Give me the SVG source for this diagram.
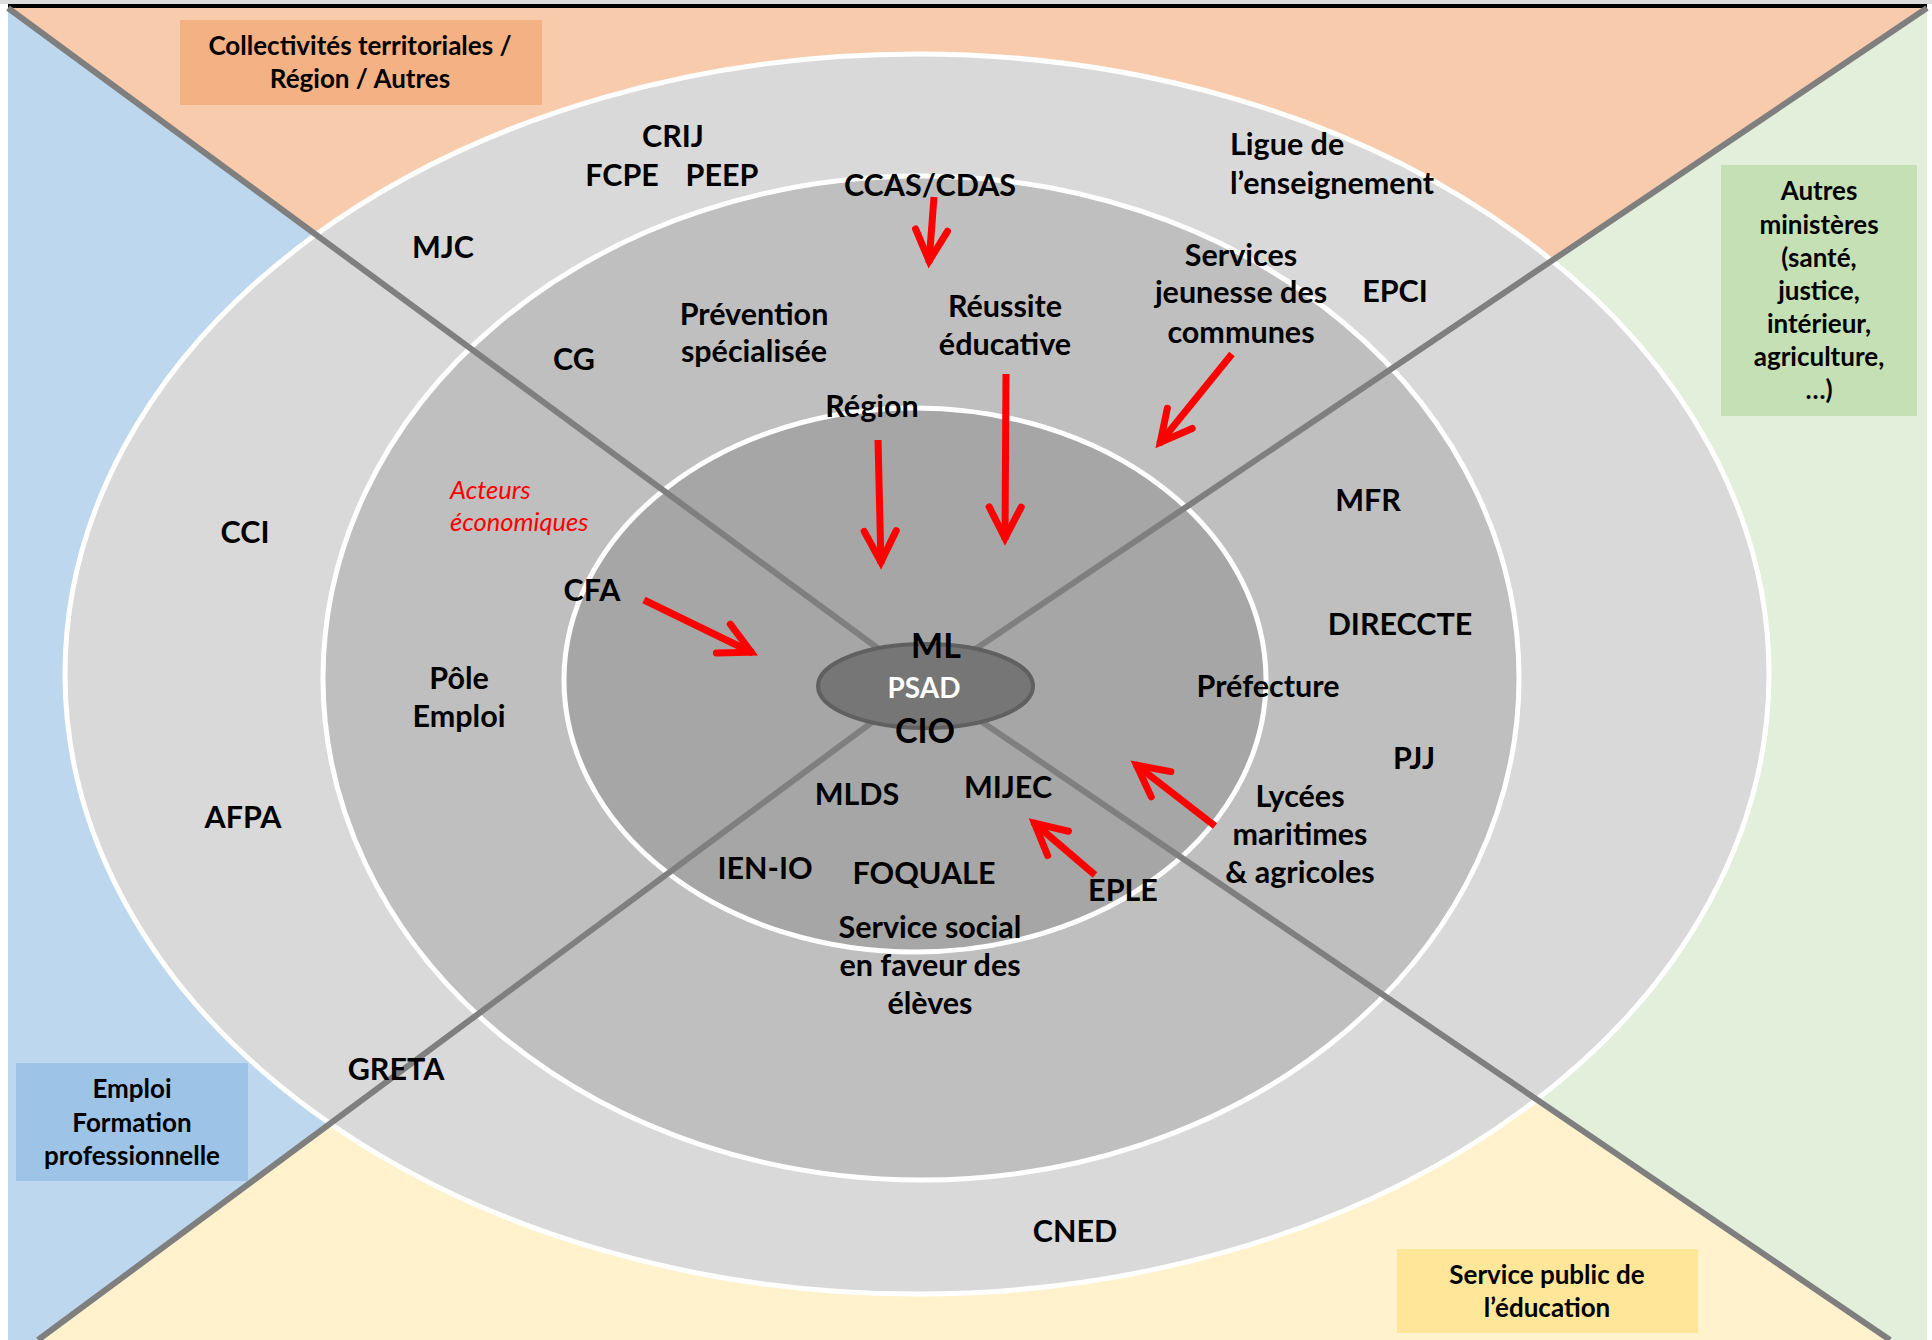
<svg xmlns="http://www.w3.org/2000/svg" width="1932" height="1340" viewBox="0 0 1932 1340">
<style>
.t{font-family:Lato,"Liberation Sans",sans-serif;font-weight:700;font-size:30.5px;fill:#000;text-anchor:middle}
.b{font-size:26px}
.big{font-size:34px}
.psad{font-size:28px;fill:#fff}
.eco{font-style:italic;font-weight:400;font-size:25.5px;fill:#ff0000;text-anchor:start}
.ring{stroke:#fff;stroke-width:5}
.axis{stroke:#7f7f7f;stroke-width:6;fill:none}
.arr{stroke:#ff0000;stroke-width:7;fill:none;marker-end:url(#ah)}
</style>
<defs>
<marker id="ah" markerUnits="userSpaceOnUse" viewBox="-40 -20 44 40" markerWidth="44" markerHeight="40" refX="0" refY="0" orient="auto" overflow="visible">
<path d="M-33,-16 L-2,0 L-33,16" fill="none" stroke="#ff0000" stroke-width="7" stroke-linecap="round" stroke-linejoin="miter"/>
</marker>
</defs>
<rect x="0" y="0" width="1932" height="1340" fill="#ffffff"/>
<rect x="0" y="0" width="1932" height="4" fill="#dcdcdc"/>
<g id="quadrants">
<polygon points="8,8 1927,8 925,683" fill="#f8cbad"/>
<polygon points="1927,8 1927,1340 1890,1340 925,683" fill="#e2efda"/>
<polygon points="38,1340 1890,1340 925,683" fill="#fff2cc"/>
<polygon points="8,8 925,683 38,1340 8,1340" fill="#bdd7ee"/>
</g>
<rect x="8" y="4" width="1919" height="4" fill="#000"/>
<g id="rings">
<ellipse class="ring" cx="917" cy="674" rx="852" ry="620" fill="#d9d9d9"/>
<ellipse class="ring" cx="921" cy="678" rx="598" ry="502" fill="#bfbfbf"/>
<ellipse class="ring" cx="915" cy="680" rx="351" ry="272" fill="#a6a6a6"/>
</g>
<g id="axes">
<line class="axis" x1="8" y1="8" x2="925" y2="683"/>
<line class="axis" x1="1927" y1="8" x2="925" y2="683"/>
<line class="axis" x1="38" y1="1340" x2="925" y2="683"/>
<line class="axis" x1="1890" y1="1340" x2="925" y2="683"/>
</g>
<g id="box-collectivites">
<rect x="180" y="20" width="362" height="85" fill="#f4b183"/>
<text class="t b" x="360" y="55">Collectivités territoriales /</text>
<text class="t b" x="360" y="88">Région / Autres</text>
</g>
<g id="box-ministeres">
<rect x="1721" y="165" width="196" height="251" fill="#c5e0b4"/>
<text class="t b" x="1819" y="200">Autres</text>
<text class="t b" x="1819" y="234">ministères</text>
<text class="t b" x="1819" y="267">(santé,</text>
<text class="t b" x="1819" y="300">justice,</text>
<text class="t b" x="1819" y="333">intérieur,</text>
<text class="t b" x="1819" y="366">agriculture,</text>
<text class="t b" x="1819" y="399">…)</text>
</g>
<g id="box-emploi">
<rect x="16" y="1063" width="232" height="118" fill="#9dc3e6"/>
<text class="t b" x="132" y="1098">Emploi</text>
<text class="t b" x="132" y="1132">Formation</text>
<text class="t b" x="132" y="1165">professionnelle</text>
</g>
<g id="box-education">
<rect x="1397" y="1249" width="301" height="84" fill="#ffe699"/>
<text class="t b" x="1547" y="1284">Service public de</text>
<text class="t b" x="1547" y="1317">l’éducation</text>
</g>
<g id="center">
<ellipse cx="925.5" cy="686" rx="107.5" ry="42" fill="#767676" stroke="#606060" stroke-width="4"/>
<text class="t big" x="936" y="658">ML</text>
<text class="t psad" x="924" y="698">PSAD</text>
<text class="t big" x="925" y="743">CIO</text>
</g>
<g id="n-crij"><text class="t" x="673" y="147">CRIJ</text></g>
<g id="n-fcpe"><text class="t" x="622" y="186">FCPE</text></g>
<g id="n-peep"><text class="t" x="722" y="186">PEEP</text></g>
<g id="n-ccas"><text class="t" x="930" y="196">CCAS/CDAS</text></g>
<g id="n-ligue">
<text class="t" x="1230" y="155" style="text-anchor:start">Ligue de</text>
<text class="t" x="1230" y="194" style="text-anchor:start">l’enseignement</text>
</g>
<g id="n-mjc"><text class="t" x="443" y="258">MJC</text></g>
<g id="n-services">
<text class="t" x="1241" y="266">Services</text>
<text class="t" x="1241" y="303">jeunesse des</text>
<text class="t" x="1241" y="343">communes</text>
</g>
<g id="n-epci"><text class="t" x="1395" y="302">EPCI</text></g>
<g id="n-prevention">
<text class="t" x="754" y="325">Prévention</text>
<text class="t" x="754" y="362">spécialisée</text>
</g>
<g id="n-reussite">
<text class="t" x="1005" y="317">Réussite</text>
<text class="t" x="1005" y="355">éducative</text>
</g>
<g id="n-cg"><text class="t" x="574" y="370">CG</text></g>
<g id="n-region"><text class="t" x="872" y="417">Région</text></g>
<g id="n-acteurs">
<text class="t eco" x="450" y="499">Acteurs</text>
<text class="t eco" x="450" y="531">économiques</text>
</g>
<g id="n-mfr"><text class="t" x="1368" y="511">MFR</text></g>
<g id="n-cci"><text class="t" x="245" y="543">CCI</text></g>
<g id="n-cfa"><text class="t" x="592" y="601">CFA</text></g>
<g id="n-direccte"><text class="t" x="1400" y="635">DIRECCTE</text></g>
<g id="n-pole">
<text class="t" x="459" y="689">Pôle</text>
<text class="t" x="459" y="727">Emploi</text>
</g>
<g id="n-prefecture"><text class="t" x="1268" y="697">Préfecture</text></g>
<g id="n-pjj"><text class="t" x="1414" y="769">PJJ</text></g>
<g id="n-mlds"><text class="t" x="857" y="805">MLDS</text></g>
<g id="n-mijec"><text class="t" x="1008" y="798">MIJEC</text></g>
<g id="n-afpa"><text class="t" x="243" y="828">AFPA</text></g>
<g id="n-lycees">
<text class="t" x="1300" y="807">Lycées</text>
<text class="t" x="1300" y="845">maritimes</text>
<text class="t" x="1300" y="883">&amp; agricoles</text>
</g>
<g id="n-ienio"><text class="t" x="765" y="879">IEN-IO</text></g>
<g id="n-foquale"><text class="t" x="924" y="884">FOQUALE</text></g>
<g id="n-eple"><text class="t" x="1123" y="901">EPLE</text></g>
<g id="n-ssfe">
<text class="t" x="930" y="938">Service social</text>
<text class="t" x="930" y="976">en faveur des</text>
<text class="t" x="930" y="1014">élèves</text>
</g>
<g id="n-greta"><text class="t" x="396" y="1080">GRETA</text></g>
<g id="n-cned"><text class="t" x="1075" y="1242">CNED</text></g>
<g id="connectors">
<line class="arr" x1="934" y1="197" x2="929" y2="263"/>
<line class="arr" x1="878" y1="440" x2="881" y2="564"/>
<line class="arr" x1="1006" y1="374" x2="1005" y2="540"/>
<line class="arr" x1="1232" y1="354" x2="1159" y2="444"/>
<line class="arr" x1="644" y1="600" x2="753" y2="653"/>
<line class="arr" x1="1215" y1="826" x2="1135" y2="764"/>
<line class="arr" x1="1095" y1="875" x2="1033" y2="822"/>
</g>
</svg>
